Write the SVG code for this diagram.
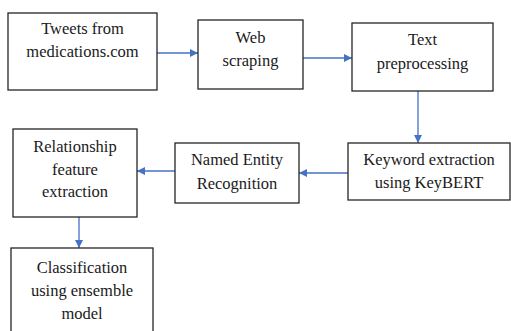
<svg xmlns="http://www.w3.org/2000/svg" width="511" height="331" viewBox="0 0 511 331">
<defs>
<style>
.box{fill:#fff;stroke:#262626;stroke-width:1.3}
text{font-size:16.5px;fill:#1a1a1a;text-anchor:middle}
.c{stroke:#4472C4;stroke-width:1.3;fill:none}
</style>
<marker id="ah" viewBox="0 0 10 10" refX="10" refY="5" markerWidth="8" markerHeight="8" markerUnits="userSpaceOnUse" orient="auto">
<path d="M0,0 L10,5 L0,10 z" fill="#4472C4"/>
</marker>
</defs>
<rect width="511" height="331" fill="#fff"/>
<g id="connectors">
<line class="c" x1="157" y1="53" x2="198" y2="53" marker-end="url(#ah)"/>
<line class="c" x1="303" y1="58" x2="352" y2="58" marker-end="url(#ah)"/>
<line class="c" x1="418" y1="91" x2="418" y2="143" marker-end="url(#ah)"/>
<line class="c" x1="348" y1="173" x2="299" y2="173" marker-end="url(#ah)"/>
<line class="c" x1="175" y1="171" x2="137" y2="171" marker-end="url(#ah)"/>
<line class="c" x1="79" y1="217" x2="79" y2="248" marker-end="url(#ah)"/>
</g>
<g font-family="Liberation Serif, Times New Roman, serif">
<g id="tweets">
<rect class="box" x="8" y="13" width="149" height="77"/>
<text x="82.5" y="34">Tweets from</text>
<text x="82.5" y="57">medications.com</text>
</g>
<g id="web">
<rect class="box" x="198" y="20" width="105" height="69"/>
<text x="250.5" y="43">Web</text>
<text x="250.5" y="66">scraping</text>
</g>
<g id="textpre">
<rect class="box" x="352" y="23" width="141" height="68"/>
<text x="422.5" y="45">Text</text>
<text x="422.5" y="69">preprocessing</text>
</g>
<g id="keyword">
<rect class="box" x="348" y="143" width="162" height="57"/>
<text x="429" y="165">Keyword extraction</text>
<text x="429" y="188">using KeyBERT</text>
</g>
<g id="ner">
<rect class="box" x="175" y="143" width="124" height="60"/>
<text x="237" y="165">Named Entity</text>
<text x="237" y="189">Recognition</text>
</g>
<g id="relationship">
<rect class="box" x="13" y="129" width="124" height="88"/>
<text x="75" y="152">Relationship</text>
<text x="75" y="175">feature</text>
<text x="75" y="197">extraction</text>
</g>
<g id="classification">
<rect class="box" x="11" y="248" width="142" height="90"/>
<text x="82" y="273">Classification</text>
<text x="82" y="296">using ensemble</text>
<text x="82" y="319">model</text>
</g>
</g>
</svg>
